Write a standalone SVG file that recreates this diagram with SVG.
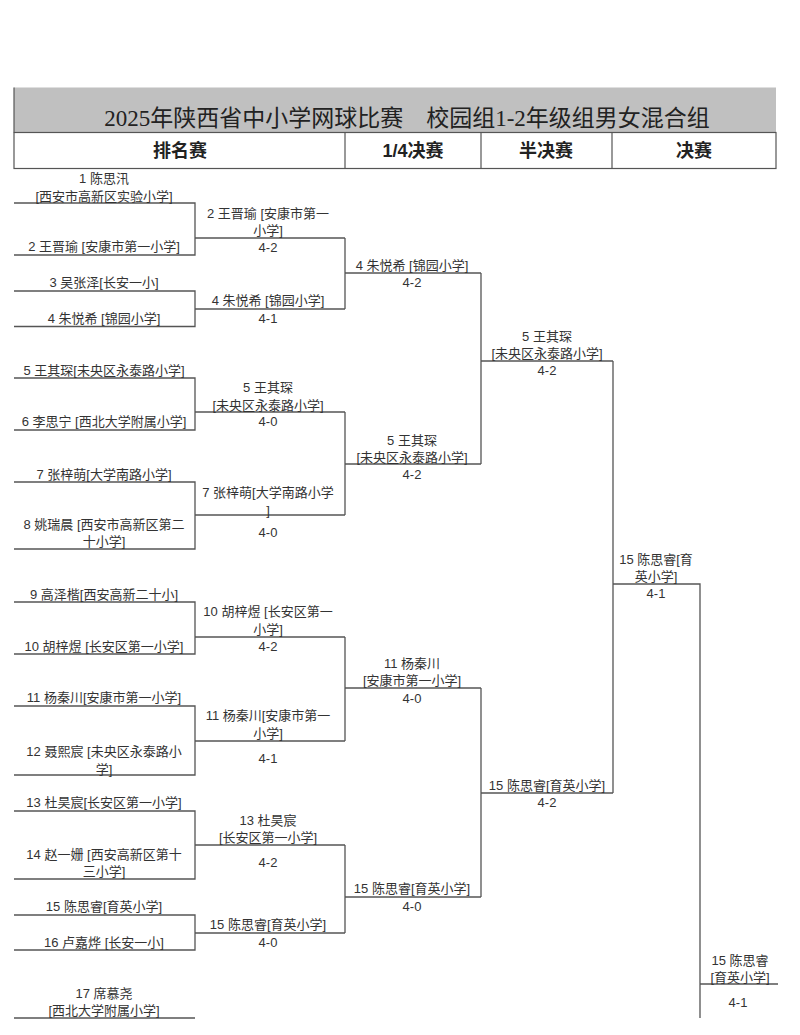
<svg xmlns="http://www.w3.org/2000/svg" width="800" height="1035" viewBox="0 0 800 1035">
<style>
.ln{stroke:#555;stroke-width:1.3;fill:none}
.hd{stroke:#555;stroke-width:1.2;fill:none}
.t{font-family:"Liberation Sans","Noto Sans CJK SC",sans-serif;font-size:13px;fill:#333;text-anchor:middle;dominant-baseline:central}
.h{font-family:"Liberation Sans","Noto Sans CJK SC",sans-serif;font-size:18px;font-weight:bold;fill:#222;text-anchor:middle;dominant-baseline:central}
.ti{font-family:"Liberation Serif","Noto Sans CJK SC",serif;font-size:23px;fill:#222;text-anchor:middle;dominant-baseline:central}
</style>
<rect width="800" height="1035" fill="#fff"/>
<g id="header">
<rect x="14" y="87.5" width="762" height="45" fill="#c0c0c0"/>
<rect x="14" y="132.5" width="762" height="36" fill="#fff" class="hd"/>
<line x1="14" y1="87.5" x2="14" y2="132.5" class="hd"/>
<line x1="345" y1="132.5" x2="345" y2="168.5" class="hd"/>
<line x1="481" y1="132.5" x2="481" y2="168.5" class="hd"/>
<line x1="612" y1="132.5" x2="612" y2="168.5" class="hd"/>
<text class="ti" x="407" y="118">2025年陕西省中小学网球比赛　校园组1-2年级组男女混合组</text>
<text class="h" x="180" y="151">排名赛</text>
<text class="h" x="413" y="151">1/4决赛</text>
<text class="h" x="546" y="151">半决赛</text>
<text class="h" x="694" y="151">决赛</text>
</g>
<g id="connectors">
<!-- round 1 -->
<path class="ln" d="M14 203H195V255H14M195 238H345"/>
<path class="ln" d="M14 291H195V326.5H14M195 309H345"/>
<path class="ln" d="M14 378H195V430H14M195 412H345"/>
<path class="ln" d="M14 482H195V549H14M195 515H345"/>
<path class="ln" d="M14 602H195V654H14M195 637H345"/>
<path class="ln" d="M14 706H195V775H14M195 741H345"/>
<path class="ln" d="M14 811H195V879H14M195 845H345"/>
<path class="ln" d="M14 915H195V950H14M195 933H345"/>
<path class="ln" d="M14 1018H195"/>
<!-- quarterfinals -->
<path class="ln" d="M345 238V309M345 273H481"/>
<path class="ln" d="M345 412V515M345 464H481"/>
<path class="ln" d="M345 637V741M345 688H481"/>
<path class="ln" d="M345 845V933M345 897H481"/>
<!-- semifinals -->
<path class="ln" d="M481 273V464M481 361H613"/>
<path class="ln" d="M481 688V897M481 793H613"/>
<!-- final -->
<path class="ln" d="M613 361V793M613 584H700V1018M700 984H778"/>
</g>
<g id="r1-1"><text class="t" x="104" y="178">1 陈思汛</text><text class="t" x="104" y="196.5">[西安市高新区实验小学]</text></g>
<g id="r1-2"><text class="t" x="104" y="246.5">2 王晋瑜 [安康市第一小学]</text></g>
<g id="r1-3"><text class="t" x="104" y="282.5">3 吴张泽[长安一小]</text></g>
<g id="r1-4"><text class="t" x="104" y="318.5">4 朱悦希 [锦园小学]</text></g>
<g id="r1-5"><text class="t" x="104" y="370">5 王其琛[未央区永泰路小学]</text></g>
<g id="r1-6"><text class="t" x="104" y="421.5">6 李思宁 [西北大学附属小学]</text></g>
<g id="r1-7"><text class="t" x="104" y="474">7 张梓萌[大学南路小学]</text></g>
<g id="r1-8"><text class="t" x="104" y="524">8 姚瑞晨 [西安市高新区第二</text><text class="t" x="104" y="541.5">十小学]</text></g>
<g id="r1-9"><text class="t" x="104" y="594">9 高泽楷[西安高新二十小]</text></g>
<g id="r1-10"><text class="t" x="104" y="646">10 胡梓煜 [长安区第一小学]</text></g>
<g id="r1-11"><text class="t" x="104" y="697.5">11 杨秦川[安康市第一小学]</text></g>
<g id="r1-12"><text class="t" x="104" y="751.5">12 聂熙宸 [未央区永泰路小</text><text class="t" x="104" y="769">学]</text></g>
<g id="r1-13"><text class="t" x="104" y="802.5">13 杜昊宸[长安区第一小学]</text></g>
<g id="r1-14"><text class="t" x="104" y="854">14 赵一姗 [西安高新区第十</text><text class="t" x="104" y="871">三小学]</text></g>
<g id="r1-15"><text class="t" x="104" y="906">15 陈思睿[育英小学]</text></g>
<g id="r1-16"><text class="t" x="104" y="942">16 卢嘉烨 [长安一小]</text></g>
<g id="r1-17"><text class="t" x="104" y="993">17 席慕尧</text><text class="t" x="104" y="1010.5">[西北大学附属小学]</text></g>
<g id="qf-1"><text class="t" x="268" y="213">2 王晋瑜 [安康市第一</text><text class="t" x="268" y="230">小学]</text><text class="t" x="268" y="247.5">4-2</text></g>
<g id="qf-2"><text class="t" x="268" y="300">4 朱悦希 [锦园小学]</text><text class="t" x="268" y="318">4-1</text></g>
<g id="qf-3"><text class="t" x="268" y="387">5 王其琛</text><text class="t" x="268" y="405">[未央区永泰路小学]</text><text class="t" x="268" y="421.5">4-0</text></g>
<g id="qf-4"><text class="t" x="268" y="492">7 张梓萌[大学南路小学</text><text class="t" x="268" y="510">]</text><text class="t" x="268" y="532.5">4-0</text></g>
<g id="qf-5"><text class="t" x="268" y="611.5">10 胡梓煜 [长安区第一</text><text class="t" x="268" y="629">小学]</text><text class="t" x="268" y="646">4-2</text></g>
<g id="qf-6"><text class="t" x="268" y="715.5">11 杨秦川[安康市第一</text><text class="t" x="268" y="733">小学]</text><text class="t" x="268" y="758">4-1</text></g>
<g id="qf-7"><text class="t" x="268" y="820">13 杜昊宸</text><text class="t" x="268" y="837">[长安区第一小学]</text><text class="t" x="268" y="862.5">4-2</text></g>
<g id="qf-8"><text class="t" x="268" y="924">15 陈思睿[育英小学]</text><text class="t" x="268" y="942">4-0</text></g>
<g id="sf-1"><text class="t" x="412" y="265">4 朱悦希 [锦园小学]</text><text class="t" x="412" y="282.5">4-2</text></g>
<g id="sf-2"><text class="t" x="412" y="440">5 王其琛</text><text class="t" x="412" y="457">[未央区永泰路小学]</text><text class="t" x="412" y="474">4-2</text></g>
<g id="sf-3"><text class="t" x="412" y="663">11 杨秦川</text><text class="t" x="412" y="680.5">[安康市第一小学]</text><text class="t" x="412" y="698">4-0</text></g>
<g id="sf-4"><text class="t" x="412" y="888">15 陈思睿[育英小学]</text><text class="t" x="412" y="906.5">4-0</text></g>
<g id="f-1"><text class="t" x="547" y="336">5 王其琛</text><text class="t" x="547" y="353">[未央区永泰路小学]</text><text class="t" x="547" y="370">4-2</text></g>
<g id="f-2"><text class="t" x="547" y="785">15 陈思睿[育英小学]</text><text class="t" x="547" y="802">4-2</text></g>
<g id="final"><text class="t" x="656" y="559">15 陈思睿[育</text><text class="t" x="656" y="576">英小学]</text><text class="t" x="656" y="593">4-1</text></g>
<g id="champion"><text class="t" x="740" y="960">15 陈思睿</text><text class="t" x="740" y="977">[育英小学]</text><text class="t" x="738" y="1002.5">4-1</text></g>
</svg>
